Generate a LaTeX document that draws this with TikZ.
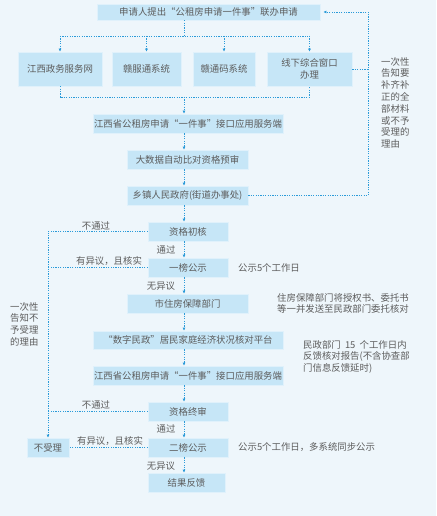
\documentclass[tikz,border=0pt]{standalone}
\usepackage{fontspec}
\setmainfont{Noto Sans CJK SC}
\usetikzlibrary{arrows.meta}
\definecolor{bgc}{HTML}{EEF6FB}
\definecolor{boxc}{HTML}{C6E6F7}
\definecolor{linec}{HTML}{2B9BD9}
\definecolor{txtc}{HTML}{5C5C5C}
\begin{document}
\begin{tikzpicture}[x=1pt,y=-1pt,
  box/.style={fill=boxc, draw=boxc!55!white, line width=0.6pt, inner sep=0pt, text=txtc, font=\fontsize{9.4}{11.8}\selectfont, align=center},
  conn/.style={draw=linec, line width=0.8pt, dash pattern=on 1.2pt off 1.2pt},
  arr/.style={conn, -{Latex[length=3pt,width=3pt]}},
  lbl/.style={text=txtc, font=\fontsize{9.4}{11.8}\selectfont, inner sep=0pt},
  side/.style={text=txtc, font=\fontsize{9.4}{11.8}\selectfont, inner sep=0pt, align=left}]
\fill[bgc] (0,0) rectangle (436,516);
\useasboundingbox (0,0) rectangle (436,516);
\coordinate (col) at (184,0);
\coordinate (lcol) at (48,0);
\coordinate (rcol) at (368,0);

\node[box, minimum width=223pt, minimum height=16pt] (top) at (208.5,12) {申请人提出“公租房申请一件事”联办申请};
\node[box, minimum width=84pt, minimum height=34pt] (a) at (60,69) {江西政务服务网};
\node[box, minimum width=69pt, minimum height=34pt] (b) at (146.5,69) {赣服通系统};
\node[box, minimum width=62pt, minimum height=34pt] (c) at (224,69) {赣通码系统};
\node[box, minimum width=85pt, minimum height=34pt] (d) at (309.5,69) {线下综合窗口\\办理};
\node[box, minimum width=190pt, minimum height=19pt] (s1) at (188,123.5) {江西省公租房申请“一件事”接口应用服务端};
\node[box, minimum width=121pt, minimum height=19pt] (s2) at (187.5,159.5) {大数据自动比对资格预审};
\node[box, minimum width=121pt, minimum height=19pt] (s3) at (187.5,195.5) {乡镇人民政府(街道办事处)};
\node[box, minimum width=80pt, minimum height=19pt] (s4) at (188,231.5) {资格初核};
\node[box, minimum width=80pt, minimum height=19pt] (s5) at (188,267.5) {一榜公示};
\node[box, minimum width=121pt, minimum height=19pt] (s6) at (187.5,303.5) {市住房保障部门};
\node[box, minimum width=190pt, minimum height=18pt] (s7) at (188,340) {“数字民政”居民家庭经济状况核对平台};
\node[box, minimum width=190pt, minimum height=19pt] (s8) at (188,375.5) {江西省公租房申请“一件事”接口应用服务端};
\node[box, minimum width=80pt, minimum height=19pt] (s9) at (188,411.5) {资格终审};
\node[box, minimum width=80pt, minimum height=19pt] (s10) at (188,447.5) {二榜公示};
\node[box, minimum width=77pt, minimum height=19pt] (s11) at (186.5,482.5) {结果反馈};
\node[box, minimum width=42pt, minimum height=19pt] (n) at (48,447.5) {不受理};

% distribution
\coordinate (dj) at (184,36);
\draw[conn] (top.south -| col) -- (dj);
\draw[conn] (a.north |- dj) -- (d.north |- dj);
\foreach \bx in {a,b,c,d} {\draw[arr] (\bx.north |- dj) -- (\bx.north);}
% collection
\coordinate (cj) at (184,97);
\draw[conn] (a.south) -- (a.south |- cj) -- (d.south |- cj) -- (d.south);
\draw[arr] (cj) -- (s1.north -| col);
% main column
\foreach \p/\q in {s1/s2,s2/s3,s3/s4,s4/s5,s5/s6,s6/s7,s7/s8,s8/s9,s9/s10,s10/s11} {\draw[arr] (\p.south -| col) -- (\q.north -| col);}
% right feedback
\draw[conn] (d.east) -- (d.east -| rcol);
\draw[arr] (s3.east) -- (s3.east -| rcol) -- (top.east -| rcol) -- ([xshift=3pt]top.east);
% left rejection
\draw[arr] (s4.west) -- (s4.west -| lcol) -- (n.north);
\draw[conn] (s5.west) -- (s5.west -| lcol);
\draw[conn] (s9.west) -- (s9.west -| lcol);
\draw[conn] (s10.west) -- (n.east);

% labels
\node[lbl] (l1) at (96,226) {不通过};
\node[lbl] (l2) at (166,250) {通过};
\node[lbl] (l3) at (109,261) {有异议，且核实};
\node[lbl] (l4) at (161,286) {无异议};
\node[lbl] (l5) at (96,405) {不通过};
\node[lbl] (l6) at (166,429) {通过};
\node[lbl] (l7) at (110,441) {有异议，且核实};
\node[lbl] (l8) at (161,466) {无异议};

% side texts
\node[side, anchor=north west] (t1) at (381,57) {一次性\\告知要\\补齐补\\正的全\\部材料\\或不予\\受理的\\理由};
\node[side, anchor=north west] (t2) at (10,302) {一次性\\告知不\\予受理\\的理由};
\node[side, anchor=west] (t3) at (238,267.5) {公示5个工作日};
\node[side, anchor=west] (t4) at (277,303.5) {住房保障部门将授权书、委托书\\等一并发送至民政部门委托核对};
\node[side, anchor=north west] (t5) at (303,340) {民政部门\ \ 15\ \ 个工作日内\\反馈核对报告(不含协查部\\门信息反馈延时)};
\node[side, anchor=west] (t6) at (238,447.5) {公示5个工作日，多系统同步公示};
\end{tikzpicture}
\end{document}
